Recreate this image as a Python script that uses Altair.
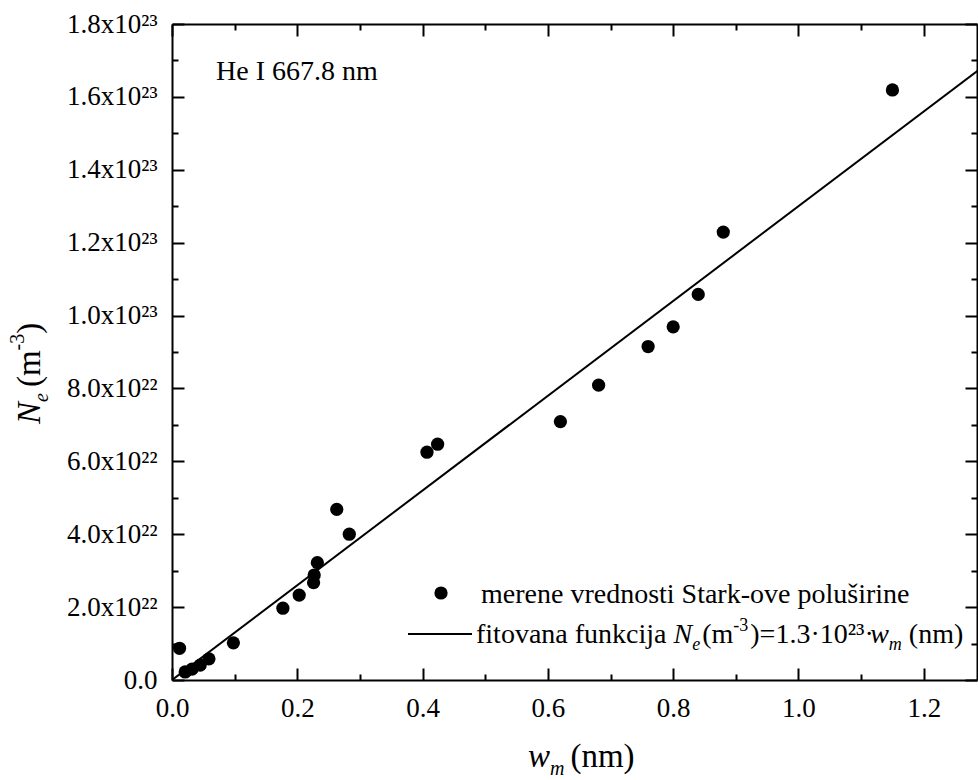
import altair as alt
import pandas as pd

# ---- data ----
w_nm = [0.012, 0.021, 0.032, 0.045, 0.059, 0.098, 0.177, 0.203, 0.226, 0.227,
        0.232, 0.263, 0.283, 0.407, 0.424, 0.620, 0.681, 0.760, 0.800, 0.840,
        0.880, 1.150]
ne_m3 = [0.87e22, 0.22e22, 0.30e22, 0.41e22, 0.58e22, 1.02e22, 1.97e22, 2.33e22,
         2.67e22, 2.88e22, 3.22e22, 4.68e22, 4.00e22, 6.25e22, 6.47e22, 7.09e22,
         8.09e22, 9.15e22, 9.69e22, 10.58e22, 12.29e22, 16.19e22]
fit_w = [0.0, 1.3]
fit_ne = [0.0, 1.69e23]

x_major = [0.0, 0.2, 0.4, 0.6, 0.8, 1.0, 1.2]
x_all = [i / 10 for i in range(0, 13)]
y_major = [i * 2e22 for i in range(0, 10)]
y_all = [i * 1e22 for i in range(0, 19)]

FONT = "'Liberation Serif', 'Times New Roman', Times, serif"
FS_TICK = 27
FS_TXT = 28
FS_TITLE = 33
W, H = 805, 656
PL, PT = 172, 24

pts = pd.DataFrame({"w": w_nm, "ne": ne_m3})
fit = pd.DataFrame({"w": fit_w, "ne": fit_ne})

xs = alt.Scale(domain=[0, 1.285], nice=False, zero=False)
ys = alt.Scale(domain=[0, 1.8e23], nice=False, zero=False)

x_tick_size = {"condition": {"test": "round(datum.value*10) % 2 == 0", "value": 12}, "value": 6}
y_tick_size = {"condition": {"test": "round(datum.value/1e22) % 2 == 0", "value": 12}, "value": 6}

common = dict(grid=False, title=None, domainColor="black", domainWidth=2,
              tickColor="black", tickWidth=2)

ax_x_labels = alt.Axis(orient="bottom", values=x_major, ticks=False, tickSize=0,
                       labelExpr="format(datum.value, '.1f')", labelFont=FONT,
                       labelFontSize=FS_TICK, labelColor="black", labelPadding=15,
                       labelFlush=False, labelOverlap=False,
                       domain=True, **common)
ay_labels = alt.Axis(orient="left", values=y_major, ticks=False, tickSize=0,
                     labelExpr="datum.value == 0 ? '0.0' : (datum.value < 9.5e22 ? format(datum.value/1e22, '.1f') + 'x10\u00b2\u00b2' : format(datum.value/1e23, '.1f') + 'x10\u00b2\u00b3')",
                     labelFont=FONT, labelFontSize=FS_TICK, labelColor="black",
                     labelPadding=15, labelFlush=False, labelOverlap=False,
                     domain=True, **common)

# inward ticks at bottom / left (opposite-orient axes shifted across the plot)
ax_in_bottom = alt.Axis(orient="top", offset=-H, values=x_all, labels=False,
                        domain=False, tickSize=x_tick_size, **common)
ay_in_left = alt.Axis(orient="right", offset=-W, values=y_all, labels=False,
                      domain=False, tickSize=y_tick_size, **common)
# inward ticks at top / right with frame lines
ax_in_top = alt.Axis(orient="bottom", offset=-H, values=x_all, labels=False,
                     domain=True, tickSize=x_tick_size, **common)
ay_in_right = alt.Axis(orient="left", offset=-W, values=y_all, labels=False,
                       domain=True, tickSize=y_tick_size, **common)

DOT = 175
points = alt.Chart(pts).mark_circle(size=DOT, color="black", opacity=1).encode(
    x=alt.X("w:Q", scale=xs, axis=ax_x_labels),
    y=alt.Y("ne:Q", scale=ys, axis=ay_labels),
)
line = alt.Chart(fit).mark_line(color="black", strokeWidth=2, clip=True).encode(
    x=alt.X("w:Q", scale=xs, axis=ax_in_bottom),
    y=alt.Y("ne:Q", scale=ys, axis=ay_in_left),
)
frame = alt.Chart(fit).mark_line(opacity=0, clip=True).encode(
    x=alt.X("w:Q", scale=xs, axis=ax_in_top),
    y=alt.Y("ne:Q", scale=ys, axis=ay_in_right),
)

one = pd.DataFrame({"a": [0]})

# Times-compatible advance widths (per 1000 em) for chaining rich-text pieces
ROMAN = {' ': 250, '(': 333, ')': 333, '=': 564, '.': 250, '\u00b7': 250, '-': 333,
         '\u00b2': 300, '\u00b3': 300,
         'a': 444, 'c': 444, 'd': 500, 'e': 444, 'f': 333, 'i': 278, 'j': 278,
         'k': 500, 'l': 278, 'm': 778, 'n': 500, 'o': 500, 'p': 500, 'r': 333,
         's': 389, 't': 278, 'u': 500, 'v': 500, 'w': 722, 'S': 556, '\u0161': 389,
         'x': 500, 'H': 722, 'I': 333, 'N': 722}
ITALIC = {'N': 667, 'e': 444, 'w': 667, 'm': 722}


def tw(s, size, italic):
    tab = ITALIC if italic else ROMAN
    return sum(tab.get(c, 500) for c in s) / 1000 * size


def txt(s, x, y, size, style="normal", angle=None):
    kw = dict(text=s, font=FONT, fontSize=size, fontStyle=style, color="black",
              align="left", baseline="alphabetic")
    if angle is not None:
        kw["angle"] = angle
    return alt.Chart(one).mark_text(**kw).encode(x=alt.value(x - PL), y=alt.value(y - PT))


def chain(parts, x0, base, F, small, sub_dy, sup_dy, vertical=False):
    """parts: (text, kind, gap_before) with kind in n, i, sub, sup."""
    out = []
    pos = x0
    sign = -1 if vertical else 1
    for s, kind, gap in parts:
        italic = kind in ("i", "sub")
        size = small if kind in ("sub", "sup") else F
        shift = sub_dy if kind == "sub" else (-sup_dy if kind == "sup" else 0)
        style = "italic" if italic else "normal"
        pos += sign * gap
        if vertical:
            out.append(txt(s, base + shift, pos, size, style, angle=270))
        else:
            out.append(txt(s, pos, base + shift, size, style))
        pos += sign * tw(s, size, italic)
    return out


texts = []
texts.append(txt("He I 667.8 nm", 216, 80, FS_TXT))
# x title
texts += chain([("w", "i", 0), ("m", "sub", 0), ("(nm)", "n", 6)],
               528, 767, FS_TITLE, 20, 8, 13)
# y title (rotated, reads bottom to top)
texts += chain([("N", "i", 0), ("e", "sub", 0), ("(m", "n", 6), ("-3", "sup", 0),
                (")", "n", 0)],
               424, 40, FS_TITLE, 20, 8, 16, vertical=True)
# legend
texts.append(txt("merene vrednosti Stark-ove polu\u0161irine", 481, 603, FS_TXT))
texts += chain([("fitovana funkcija", "n", 0), ("N", "i", 7), ("e", "sub", 0),
                ("(m", "n", 2), ("-3", "sup", 0), (")=1.3\u00b710\u00b2\u00b3\u00b7", "n", 2),
                ("w", "i", 1), ("m", "sub", 0), ("(nm)", "n", 7)],
               476, 643, FS_TXT, 18, 7, 12)

leg_dot = alt.Chart(one).mark_circle(size=DOT, color="black", opacity=1).encode(
    x=alt.value(441 - PL), y=alt.value(593 - PT))
leg_line = alt.Chart(one).mark_rule(color="black", strokeWidth=2).encode(
    x=alt.value(408 - PL), x2=alt.value(472 - PL), y=alt.value(634 - PT))

chart = alt.layer(points, line, frame, leg_dot, leg_line, *texts).resolve_axis(
    x="independent", y="independent"
).properties(
    width=W, height=H,
    autosize=alt.AutoSizeParams(type="none"),
    padding={"left": PL, "top": PT, "right": 1, "bottom": 100},
).configure_view(stroke=None).configure(background="white")

chart.save("out.html", embed_options={"renderer": "svg", "actions": False})
